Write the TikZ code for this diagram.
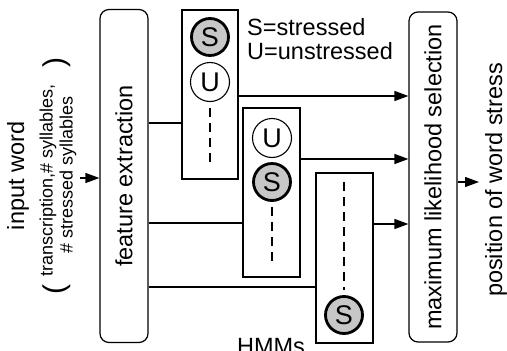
\documentclass[tikz,border=0pt]{standalone}
\usepackage{fontspec}
\setmainfont{Liberation Sans}
\usetikzlibrary{arrows.meta}
\begin{document}
\begin{tikzpicture}[x=1pt,y=-1pt,
  txt/.style={font=\fontsize{23.5}{27}\selectfont, inner sep=0pt},
  smalltxt/.style={font=\fontsize{18}{21}\selectfont, inner sep=0pt},
  rbox/.style={draw, line width=1.2pt, rounded corners=9pt},
  hmmbox/.style={draw, line width=1.2pt},
  sstate/.style={circle, draw, line width=2.8pt, fill=black!22, minimum size=37pt, inner sep=0pt, font=\fontsize{27}{30}\selectfont},
  ustate/.style={circle, draw, line width=1.1pt, fill=white, minimum size=39pt, inner sep=0pt, font=\fontsize{27}{30}\selectfont},
  dline/.style={dashed, dash pattern=on 9pt off 6pt, line width=1.1pt},
  inline/.style={line width=2.4pt},
  outline/.style={line width=1.3pt, -{Triangle[length=14pt,width=10pt]}}
]
\useasboundingbox (0,0) rectangle (507,351);
% main boxes
\node[rbox, minimum width=48pt, minimum height=333pt, inner sep=0pt] (fe) at (124,176) {};
\node[txt, rotate=90] (fetext) at (fe.center) {feature extraction};
\node[rbox, minimum width=48pt, minimum height=330pt, inner sep=0pt] (ml) at (433,177) {};
\node[txt, rotate=90] (mltext) at (ml.center) {maximum likelihood selection};
% HMM boxes
\node[hmmbox, minimum width=56pt, minimum height=169pt, inner sep=0pt] (h1) at (210,94.5) {};
\node[hmmbox, minimum width=57pt, minimum height=169pt, inner sep=0pt] (h2) at (271.5,192.5) {};
\node[hmmbox, minimum width=57pt, minimum height=170pt, inner sep=0pt] (h3) at (344.5,258) {};
% states
\node[sstate] (s1) at (210,37) {S};
\node[ustate] (u1) at (210,82) {U};
\coordinate (d1a) at (210,108);
\coordinate (d1b) at (210,167);
\draw[dline] (d1a) -- (d1b);
\node[ustate] (u2) at (272,138) {U};
\node[sstate] (s2) at (272,182) {S};
\coordinate (d2a) at (272,207);
\coordinate (d2b) at (272,265);
\draw[dline] (d2a) -- (d2b);
\coordinate (d3a) at (344,182);
\coordinate (d3b) at (344,290);
\draw[dline] (d3a) -- (d3b);
\node[sstate] (s3) at (344,315) {S};
% input connectors
\draw[inline] (fe.east |- 0,123) -- (h1.west |- 0,123);
\draw[inline] (fe.east |- 0,223) -- (h2.west |- 0,223);
\draw[inline] (fe.east |- 0,287) -- (h3.west |- 0,287);
% output connectors
\draw[outline] (h1.east |- 0,96) -- (ml.west |- 0,96);
\draw[outline] (h2.east |- 0,159) -- (ml.west |- 0,159);
\draw[outline] (h3.east |- 0,224) -- (ml.west |- 0,224);
% final output
\coordinate (outend) at (479,182);
\draw[outline] (ml.east |- outend) -- (outend);
\node[txt, rotate=90, anchor=base] (pos) at (502,180) {position of word stress};
% input
\coordinate (instart) at (80,178);
\draw[outline] (instart) -- (fe.west |- instart);
\node[txt, rotate=90] (iw) at (18,176) {input word};
\node[smalltxt, rotate=90] (l1) at (48,180) {transcription,\# syllables,};
\node[smalltxt, rotate=90] (l2) at (68,175) {\# stressed syllables};
\node[inner sep=0pt, rotate=90, font=\fontsize{30}{30}\selectfont] (lp) at (57,290) {(};
\node[inner sep=0pt, rotate=90, font=\fontsize{30}{30}\selectfont] (rp) at (57,63) {)};
% legend
\node[txt, anchor=base west] (leg1) at (247,35) {S=stressed};
\node[txt, anchor=base west] (leg2) at (247,59) {U=unstressed};
\node[txt, anchor=base] (hmms) at (271,354) {HMMs};
\end{tikzpicture}
\end{document}
